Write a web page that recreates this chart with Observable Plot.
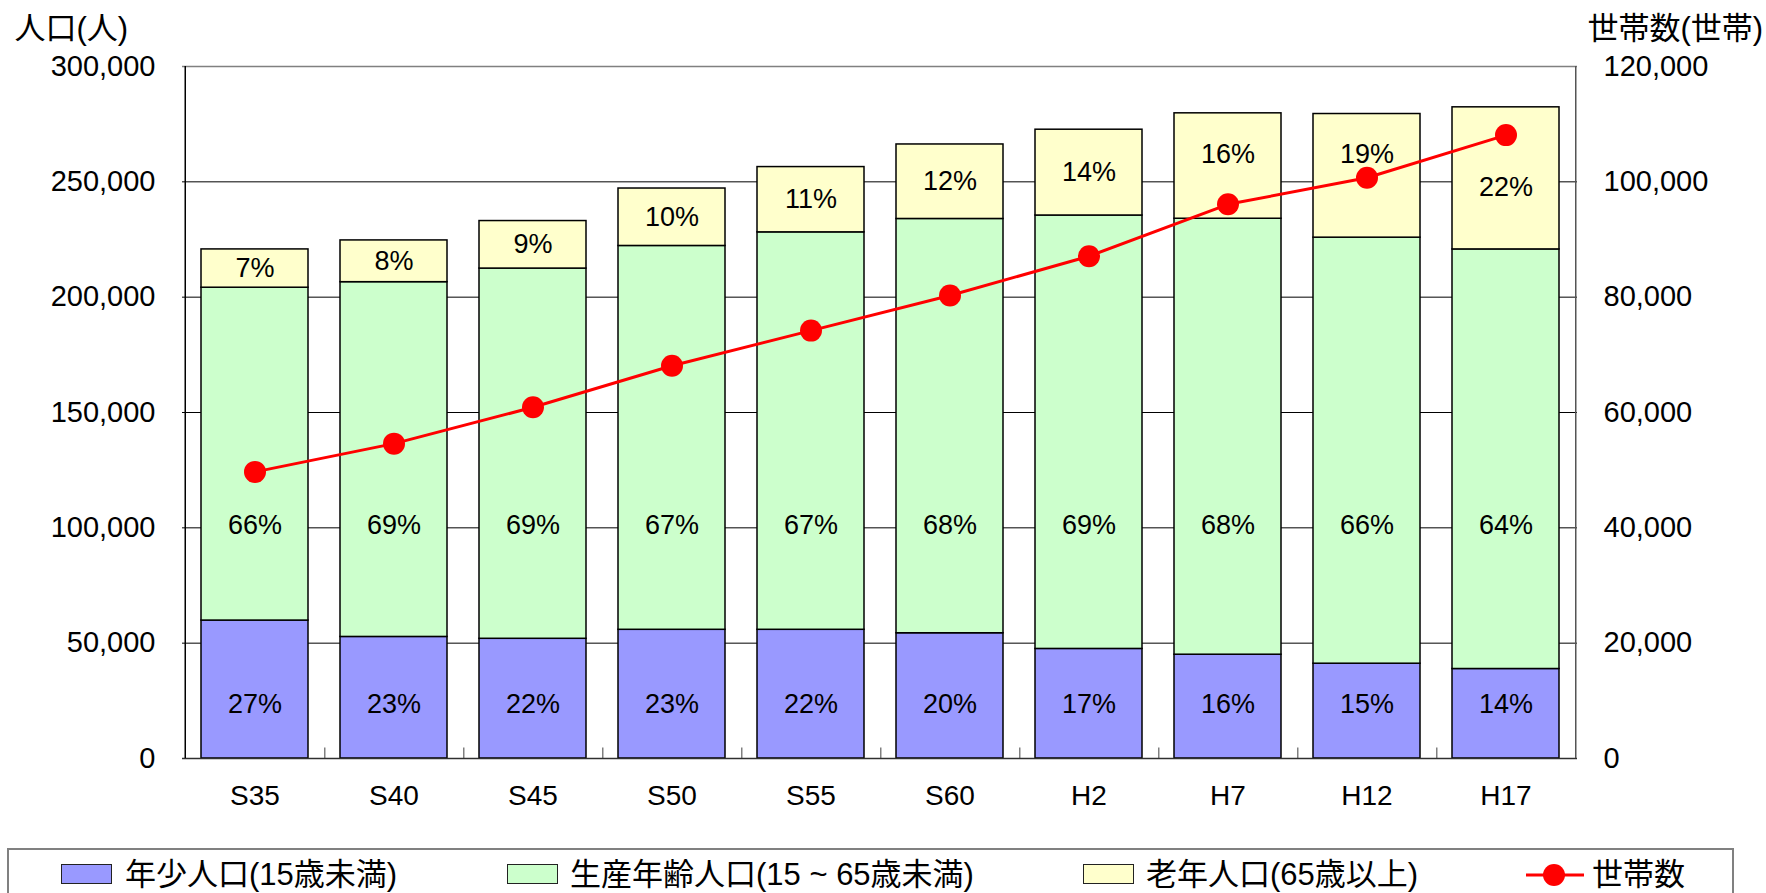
<!DOCTYPE html>
<html>
<head>
<meta charset="utf-8">
<script src="https://cdn.jsdelivr.net/npm/d3@7"></script>
<script src="https://cdn.jsdelivr.net/npm/@observablehq/plot@0.6"></script>
<style>
  html, body { margin: 0; padding: 0; background: #fff; }
  #wrap { position: relative; width: 1766px; height: 893px; overflow: hidden; font-family: "Liberation Sans", Arial, "Noto Sans CJK JP", sans-serif; }
  #legend { position: absolute; left: 0; top: 848px; width: 1766px; height: 60px; }
  #legend .box { position: absolute; left: 7px; top: 0; width: 1727px; height: 80px; border: 2px solid #808080; box-sizing: border-box; }
  #legend .sw { position: absolute; top: 16px; width: 51px; height: 20px; border: 1.5px solid #222; box-sizing: border-box; }
  #legend .tx { position: absolute; top: 26px; transform: translateY(-50%); font-size: 31px; line-height: 1; white-space: nowrap; color: #000; }
  #legend svg { position: absolute; }
</style>
</head>
<body>
<div id="wrap"><div id="chart"></div><div id="legend"></div></div>
<script>
// ---- data ----
const categories = ["S35", "S40", "S45", "S50", "S55", "S60", "H2", "H7", "H12", "H17"];
const young   = [59800, 52700, 51900, 55800, 55800, 54300, 47500, 45000, 41100, 38800];
const working = [144300, 153800, 160500, 166400, 172300, 179600, 187900, 189000, 184700, 181900];
const elderly = [16600, 18100, 20600, 24900, 28300, 32300, 37200, 45700, 53600, 61600];
const households = [49700, 54600, 60900, 68100, 74200, 80300, 87100, 96100, 100700, 108100];
const youngPct   = ["27%", "23%", "22%", "23%", "22%", "20%", "17%", "16%", "15%", "14%"];
const workingPct = ["66%", "69%", "69%", "67%", "67%", "68%", "69%", "68%", "66%", "64%"];
const elderlyPct = ["7%", "8%", "9%", "10%", "11%", "12%", "14%", "16%", "19%", "22%"];
const groupNames = ["年少人口(15歳未満)", "生産年齢人口(15 ~ 65歳未満)", "老年人口(65歳以上)"];
const householdName = "世帯数";
const groupColors = ["#9999FF", "#CCFFCC", "#FFFFCC"];
const lineColor = "#FF0000";
const leftTicks = [0, 50000, 100000, 150000, 200000, 250000, 300000];
const leftMax = 300000, rightMax = 120000;

// label nudges (pixels) where the original moved labels away from the line markers
const labelNudge = {"H7": -12, "H12": -21, "H17": 9};

// ---- build tables ----
const rows = categories.map((c, i) => ({
  cat: c, young: young[i], working: working[i], elderly: elderly[i], hh: households[i],
  yp: youngPct[i], wp: workingPct[i], ep: elderlyPct[i]
}));
const stacked = [];
rows.forEach((r) => {
  stacked.push({cat: r.cat, group: groupNames[0], value: r.young});
  stacked.push({cat: r.cat, group: groupNames[1], value: r.working});
  stacked.push({cat: r.cat, group: groupNames[2], value: r.elderly});
});

const W = 1766, H = 848;
const mL = 182, mR = 189, mT = 66, mB = 90;
const step = (W - mL - mR) / categories.length;
const fmt = d3.format(",");
const toLeft = v => v * leftMax / rightMax;

const elderlyMarks = [];
const plain = rows.filter(r => !(r.cat in labelNudge));
elderlyMarks.push(Plot.text(plain, {x: "cat", y: d => d.young + d.working + d.elderly / 2, text: "ep", fontSize: 27}));
for (const [cat, dy] of Object.entries(labelNudge)) {
  elderlyMarks.push(Plot.text(rows.filter(r => r.cat === cat), {x: "cat", y: d => d.young + d.working + d.elderly / 2, text: "ep", fontSize: 27, dy}));
}

const chart = Plot.plot({
  width: W, height: H,
  marginLeft: mL, marginRight: mR, marginTop: mT, marginBottom: mB,
  style: {fontFamily: '"Liberation Sans", Arial, "Noto Sans CJK JP", sans-serif', fontSize: "29px", color: "#000", background: "#fff", overflow: "visible"},
  x: {domain: categories, paddingInner: 0.232, paddingOuter: 0.116, label: null},
  y: {domain: [0, leftMax], label: null},
  color: {domain: groupNames, range: groupColors},
  marks: [
    Plot.ruleY(leftTicks.filter(t => t > 0 && t < leftMax), {stroke: "#000", strokeWidth: 1}),
    Plot.ruleY([leftMax], {stroke: "#808080", strokeWidth: 1.5}),
    Plot.barY(stacked, {x: "cat", y: "value", fill: "group", order: groupNames, stroke: "#000", strokeWidth: 1.5}),
    Plot.ruleX(categories.slice(0, -1), {x: d => d, dx: step / 2, y1: 0, y2: 4600, stroke: "#808080", strokeWidth: 1.5}),
    Plot.ruleY([0], {stroke: "#303030", strokeWidth: 1.5}),
    Plot.ruleX([categories[0]], {x: d => d, dx: -step / 2, stroke: "#000", strokeWidth: 1.5}),
    Plot.ruleX([categories[categories.length - 1]], {x: d => d, dx: step / 2, stroke: "#555", strokeWidth: 1.5}),
    Plot.text(rows, {x: "cat", y: () => 23500, text: "yp", fontSize: 27}),
    Plot.text(rows, {x: "cat", y: () => 101000, text: "wp", fontSize: 27}),
    ...elderlyMarks,
    Plot.line(rows, {x: "cat", y: d => toLeft(d.hh), stroke: lineColor, strokeWidth: 3}),
    Plot.dot(rows, {x: "cat", y: d => toLeft(d.hh), r: 11, fill: lineColor}),
    Plot.axisY({anchor: "left", ticks: leftTicks, tickSize: 0, tickPadding: 27, tickFormat: fmt, fontSize: 29}),
    Plot.axisY({anchor: "right", ticks: leftTicks, tickSize: 0, tickPadding: 26, tickFormat: d => fmt(d * rightMax / leftMax), fontSize: 29}),
    Plot.axisX({anchor: "bottom", tickSize: 0, tickPadding: 27, fontSize: 28}),
    Plot.text(["人口(人)"], {frameAnchor: "top-left", dx: -168, dy: -50, textAnchor: "start", fontSize: 31}),
    Plot.text(["世帯数(世帯)"], {frameAnchor: "top-right", dx: 10, dy: -50, textAnchor: "start", fontSize: 31})
  ]
});
document.getElementById("chart").appendChild(chart);

// ---- legend ----
const lg = document.getElementById("legend");
const box = document.createElement("div"); box.className = "box"; lg.appendChild(box);
const swX = [61, 507, 1083], txX = [125, 570, 1146];
groupNames.forEach((g, i) => {
  const s = document.createElement("div"); s.className = "sw";
  s.style.left = swX[i] + "px"; s.style.background = groupColors[i]; lg.appendChild(s);
  const t = document.createElement("div"); t.className = "tx";
  t.style.left = txX[i] + "px"; t.textContent = g; lg.appendChild(t);
});
const ns = "http://www.w3.org/2000/svg";
const ls = document.createElementNS(ns, "svg");
ls.setAttribute("width", 60); ls.setAttribute("height", 30);
ls.style.left = "1525px"; ls.style.top = "12px";
const ln = document.createElementNS(ns, "line");
ln.setAttribute("x1", 1); ln.setAttribute("x2", 59); ln.setAttribute("y1", 15); ln.setAttribute("y2", 15);
ln.setAttribute("stroke", lineColor); ln.setAttribute("stroke-width", 3);
const cc = document.createElementNS(ns, "circle");
cc.setAttribute("cx", 29); cc.setAttribute("cy", 15); cc.setAttribute("r", 11); cc.setAttribute("fill", lineColor);
ls.appendChild(ln); ls.appendChild(cc); lg.appendChild(ls);
const t4 = document.createElement("div"); t4.className = "tx";
t4.style.left = "1592px"; t4.textContent = householdName; lg.appendChild(t4);
</script>
</body>
</html>
